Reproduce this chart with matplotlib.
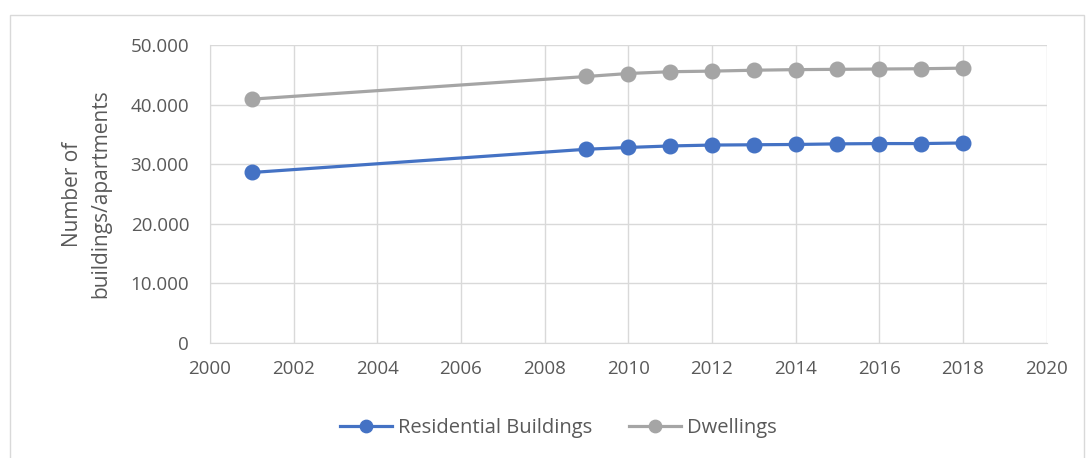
import matplotlib.pyplot as plt
from matplotlib.ticker import FuncFormatter
from matplotlib.patches import Rectangle

# Daten
years = [2001, 2009, 2010, 2011, 2012, 2013, 2014, 2015, 2016, 2017, 2018]
residential = [28600, 32500, 32800, 33050, 33200, 33250, 33300, 33400, 33450, 33450, 33550]
dwellings = [40900, 44700, 45200, 45500, 45600, 45750, 45850, 45900, 45950, 46000, 46100]

plt.rcParams['font.family'] = ['Open Sans', 'DejaVu Sans']

fig = plt.figure(figsize=(10.88, 4.58), dpi=100)
ax = fig.add_axes([0.193, 0.251, 0.769, 0.651])

# Rahmen des Diagrammbereichs
fig.patches.append(Rectangle((10 / 1088, -0.1), 1074 / 1088, 1.1 - 15 / 458,
                             transform=fig.transFigure, fill=False,
                             edgecolor='#d9d9d9', linewidth=1))

ax.plot(years, residential, color='#4472C4', linewidth=2.3, marker='o',
        markersize=10.5, label='Residential Buildings')
ax.plot(years, dwellings, color='#A5A5A5', linewidth=2.3, marker='o',
        markersize=10.5, label='Dwellings')

ax.set_xlim(2000, 2020)
ax.set_ylim(0, 50000)
ax.set_xticks(range(2000, 2021, 2))
ax.set_yticks(range(0, 50001, 10000))
ax.yaxis.set_major_formatter(FuncFormatter(lambda v, p: f'{int(v):,}'.replace(',', '.')))

ax.grid(True, color='#d9d9d9', linewidth=1)
ax.set_axisbelow(True)
for s in ax.spines.values():
    s.set_visible(False)
ax.spines['left'].set_visible(True)
ax.spines['left'].set_color('#d9d9d9')
ax.spines['bottom'].set_visible(True)
ax.spines['bottom'].set_color('#d9d9d9')
ax.tick_params(length=0, labelsize=13.5, colors='#595959')
ax.tick_params(axis='y', pad=15)
ax.tick_params(axis='x', pad=12)

ax.set_ylabel('Number of\nbuildings/apartments', fontsize=15, color='#595959',
              labelpad=14, linespacing=1.45)

# Legende mittig im Diagrammbereich
fig.legend(*ax.get_legend_handles_labels(), loc='center', bbox_to_anchor=(0.513, 0.065),
           ncol=2, frameon=False, fontsize=14.5, labelcolor='#595959', handlelength=2.6,
           handletextpad=0.3, columnspacing=1.8, markerscale=0.85)

plt.savefig('out.png', dpi=100)
